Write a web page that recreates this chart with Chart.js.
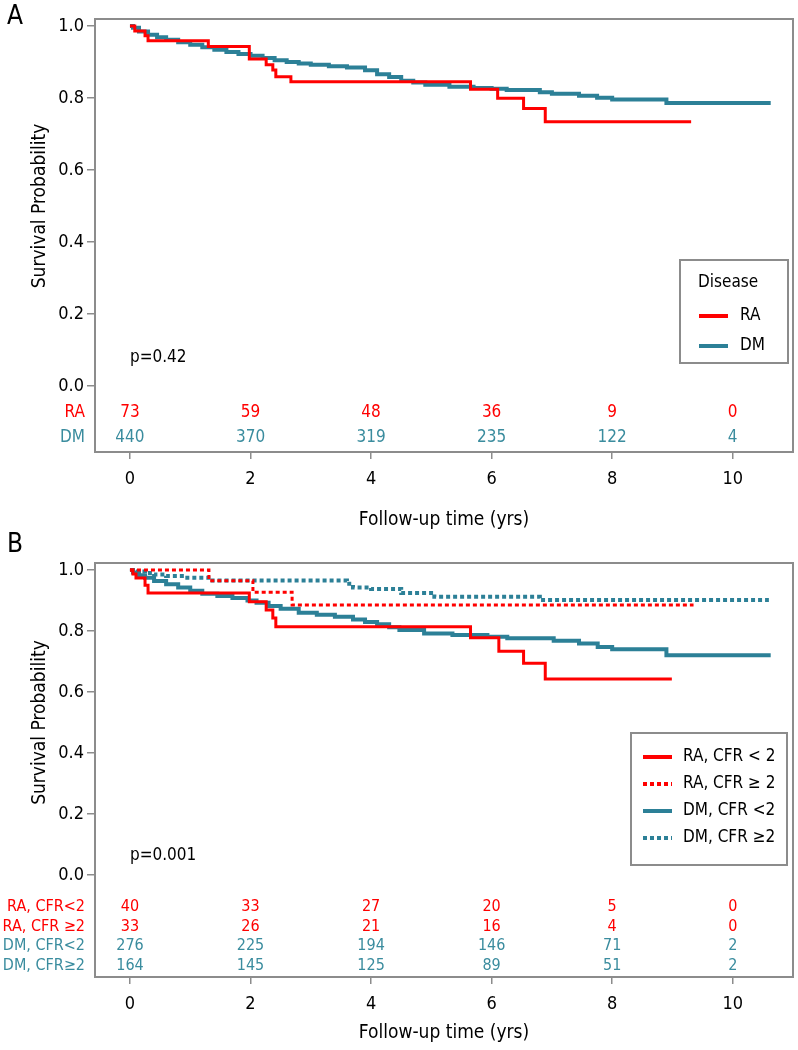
<!DOCTYPE html>
<html>
<head>
<meta charset="utf-8">
<script src="https://cdn.jsdelivr.net/npm/chart.js@4.4.1/dist/chart.umd.min.js"></script>
<style>
  html, body { margin: 0; padding: 0; background: #fff; }
  canvas { display: block; }
</style>
</head>
<body>
<canvas id="chartA" width="798" height="530"></canvas>
<canvas id="chartB" width="798" height="520"></canvas>
<script>
// tick labels (years)
const years = [0, 2, 4, 6, 8, 10];
const probTicks = [0, 0.2, 0.4, 0.6, 0.8, 1.0];

// Panel A - Kaplan-Meier steps (time in yrs, survival)
const raTimeA = [0, 0.08, 0.25, 0.3, 1.3, 1.98, 2.26, 2.37, 2.42, 2.67, 5.65, 6.1, 6.53, 6.89, 9.31];
const raSurvA = [1.0, 0.986, 0.973, 0.959, 0.943, 0.908, 0.892, 0.878, 0.859, 0.845, 0.824, 0.799, 0.771, 0.734, 0.734];
const dmTimeA = [0, 0.05, 0.15, 0.3, 0.45, 0.6, 0.8, 1.0, 1.2, 1.4, 1.6, 1.8, 2.0, 2.2, 2.4, 2.6, 2.8, 3.0, 3.3, 3.6, 3.9, 4.1, 4.3, 4.5, 4.7, 4.9, 5.3, 5.7, 6.0, 6.25, 6.8, 7.0, 7.45, 7.75, 8.0, 8.9, 10.63];
const dmSurvA = [1.0, 0.995, 0.985, 0.976, 0.969, 0.962, 0.955, 0.948, 0.941, 0.934, 0.928, 0.922, 0.917, 0.911, 0.905, 0.9, 0.896, 0.892, 0.888, 0.885, 0.877, 0.866, 0.858, 0.848, 0.843, 0.837, 0.831, 0.828, 0.826, 0.822, 0.816, 0.812, 0.806, 0.801, 0.796, 0.786, 0.786];

// Panel A - numbers at risk
const riskRA_A = [73, 59, 48, 36, 9, 0];
const riskDM_A = [440, 370, 319, 235, 122, 4];

// Panel B - Kaplan-Meier steps
const raLowTime = [0, 0.05, 0.1, 0.25, 0.3, 1.98, 2.26, 2.37, 2.42, 5.65, 6.12, 6.53, 6.89, 8.99];
const raLowSurv = [1.0, 0.987, 0.974, 0.95, 0.925, 0.896, 0.869, 0.843, 0.814, 0.778, 0.734, 0.694, 0.643, 0.643];
const raHighTime = [0, 1.31, 2.04, 2.69, 9.35];
const raHighSurv = [1.0, 0.965, 0.927, 0.885, 0.885];
const dmLowTime = [0, 0.05, 0.15, 0.25, 0.4, 0.6, 0.8, 1.0, 1.2, 1.45, 1.7, 1.95, 2.1, 2.3, 2.5, 2.8, 3.1, 3.4, 3.7, 3.9, 4.1, 4.3, 4.47, 4.88, 5.35, 5.93, 6.26, 7.03, 7.45, 7.76, 8.0, 8.9, 10.63];
const dmLowSurv = [1.0, 0.992, 0.983, 0.975, 0.964, 0.953, 0.943, 0.932, 0.922, 0.915, 0.908, 0.9, 0.893, 0.882, 0.873, 0.86, 0.853, 0.847, 0.838, 0.83, 0.822, 0.812, 0.803, 0.792, 0.787, 0.781, 0.776, 0.768, 0.759, 0.748, 0.74, 0.721, 0.721];
const dmHighTime = [0, 0.1, 0.25, 0.4, 0.6, 0.9, 1.3, 3.6, 3.7, 4.0, 4.5, 5.05, 6.8, 10.6];
const dmHighSurv = [1.0, 0.995, 0.99, 0.985, 0.98, 0.975, 0.966, 0.955, 0.943, 0.938, 0.925, 0.912, 0.902, 0.902];

// Panel B - numbers at risk
const riskRALow = [40, 33, 27, 20, 5, 0];
const riskRAHigh = [33, 26, 21, 16, 4, 0];
const riskDMLow = [276, 225, 194, 146, 71, 2];
const riskDMHigh = [164, 145, 125, 89, 51, 2];

const RED = "rgb(255, 0, 0)";
const TEAL = "#2c8097";
const TEAL_TEXT = "#3a8c9e";
const FRAME = "#8c8c8c";
const FONT = '"Liberation Sans Narrow", "DejaVu Sans Condensed", "Open Sans", sans-serif';

function points(ts, ss) {
  return ts.map((t, i) => ({ x: t, y: ss[i] }));
}

function kmLine(label, ts, ss, color, width, dash) {
  return {
    label: label,
    data: points(ts, ss),
    borderColor: color,
    borderWidth: width,
    borderDash: dash || [],
    stepped: "before",
    pointRadius: 0,
    fill: false,
  };
}

// draws frame, risk table, legend and texts
const kmExtras = {
  id: "kmExtras",
  afterDraw(chart, args, opts) {
    const ctx = chart.ctx;
    const area = chart.chartArea;
    const xs = chart.scales.x;
    ctx.save();

    // frame
    ctx.strokeStyle = FRAME;
    ctx.lineWidth = 2;
    ctx.strokeRect(area.left, area.top, area.right - area.left, area.bottom - area.top);

    // panel letter
    ctx.fillStyle = "#000";
    ctx.textBaseline = "middle";
    ctx.textAlign = "left";
    ctx.font = "26px " + FONT;
    ctx.fillText(opts.letter, 7, opts.letterY);

    // p value
    ctx.font = "17px " + FONT;
    ctx.fillText(opts.pText, 130, opts.pY);

    // axis titles
    ctx.textAlign = "center";
    ctx.font = "19px " + FONT;
    ctx.fillText("Follow-up time (yrs)", 444, opts.xTitleY);
    ctx.save();
    ctx.translate(40, chart.scales.y.getPixelForValue(0.5));
    ctx.rotate(-Math.PI / 2);
    ctx.fillText("Survival Probability", 0, 0);
    ctx.restore();

    // numbers at risk
    opts.risk.forEach(row => {
      ctx.fillStyle = row.color;
      ctx.font = opts.riskFont + "px " + FONT;
      ctx.textAlign = "right";
      ctx.fillText(row.label, 85, row.y);
      ctx.textAlign = "center";
      row.values.forEach((v, i) => {
        ctx.fillText(String(v), xs.getPixelForValue(years[i]), row.y);
      });
    });

    // legend box
    const lg = opts.legend;
    ctx.strokeStyle = FRAME;
    ctx.lineWidth = 2;
    ctx.strokeRect(lg.left, lg.top, lg.right - lg.left, lg.bottom - lg.top);
    ctx.fillStyle = "#000";
    ctx.textAlign = "left";
    ctx.font = "17px " + FONT;
    if (lg.title) ctx.fillText(lg.title, lg.titleX, lg.titleY);
    chart.data.datasets.forEach((ds, i) => {
      const y = lg.firstY + i * lg.step;
      ctx.beginPath();
      ctx.strokeStyle = ds.borderColor;
      ctx.lineWidth = 4;
      ctx.setLineDash(ds.borderDash);
      ctx.moveTo(lg.lineX, y);
      ctx.lineTo(lg.lineX + 29, y);
      ctx.stroke();
      ctx.setLineDash([]);
      ctx.fillStyle = "#000";
      ctx.fillText(ds.label, lg.textX, y);
    });

    ctx.restore();
  }
};

function makeChart(id, datasets, cfg) {
  const H = document.getElementById(id).height;
  return new Chart(document.getElementById(id), {
    type: "line",
    data: { datasets: datasets },
    options: {
      responsive: false,
      animation: false,
      layout: { padding: { top: cfg.top, right: 5, left: 0, bottom: 0 } },
      plugins: {
        legend: { display: false },
        tooltip: { enabled: false },
        kmExtras: cfg.extras,
      },
      scales: {
        x: {
          type: "linear",
          min: -0.58,
          max: 11.0,
          afterFit: s => { s.height = H - cfg.bottom; },
          afterBuildTicks: s => { s.ticks = years.map(v => ({ value: v })); },
          grid: { drawOnChartArea: false, drawTicks: true, tickLength: 7, color: FRAME, lineWidth: 1.5 },
          border: { display: false },
          ticks: { color: "#000", padding: 10, font: { family: FONT, size: 18 } },
        },
        y: {
          type: "linear",
          min: cfg.ymin,
          max: cfg.ymax,
          afterFit: s => { s.width = 95; },
          afterBuildTicks: s => { s.ticks = probTicks.map(v => ({ value: v })); },
          grid: { drawOnChartArea: false, drawTicks: true, tickLength: 8, color: FRAME, lineWidth: 1.5 },
          border: { display: false },
          ticks: { color: "#000", padding: 3, font: { family: FONT, size: 18 }, callback: v => v.toFixed(1) },
        },
      },
    },
    plugins: [kmExtras],
  });
}

makeChart("chartA", [
  kmLine("RA", raTimeA, raSurvA, RED, 3),
  kmLine("DM", dmTimeA, dmSurvA, TEAL, 4),
], {
  top: 19, bottom: 452, ymin: -0.1833, ymax: 1.0194,
  extras: {
    letter: "A", letterY: 17, pText: "p=0.42", pY: 358, xTitleY: 520, riskFont: 17,
    risk: [
      { label: "RA", values: riskRA_A, color: RED, y: 413 },
      { label: "DM", values: riskDM_A, color: TEAL_TEXT, y: 438 },
    ],
    legend: { left: 680, top: 260, right: 788, bottom: 363, title: "Disease", titleX: 698, titleY: 283,
              firstY: 316, step: 30, lineX: 699, textX: 740 },
  },
});

makeChart("chartB", [
  kmLine("RA, CFR < 2", raLowTime, raLowSurv, RED, 3),
  kmLine("RA, CFR \u2265 2", raHighTime, raHighSurv, RED, 3, [4, 3]),
  kmLine("DM, CFR <2", dmLowTime, dmLowSurv, TEAL, 4),
  kmLine("DM, CFR \u22652", dmHighTime, dmHighSurv, TEAL, 4, [4, 3]),
], {
  top: 33, bottom: 447, ymin: -0.334, ymax: 1.023,
  extras: {
    letter: "B", letterY: 15, pText: "p=0.001", pY: 326, xTitleY: 503, riskFont: 16,
    risk: [
      { label: "RA, CFR<2", values: riskRALow, color: RED, y: 377 },
      { label: "RA, CFR \u22652", values: riskRAHigh, color: RED, y: 397 },
      { label: "DM, CFR<2", values: riskDMLow, color: TEAL_TEXT, y: 416 },
      { label: "DM, CFR\u22652", values: riskDMHigh, color: TEAL_TEXT, y: 436 },
    ],
    legend: { left: 631, top: 203, right: 787, bottom: 335, title: null,
              firstY: 227, step: 27, lineX: 643, textX: 683 },
  },
});
</script>
</body>
</html>
